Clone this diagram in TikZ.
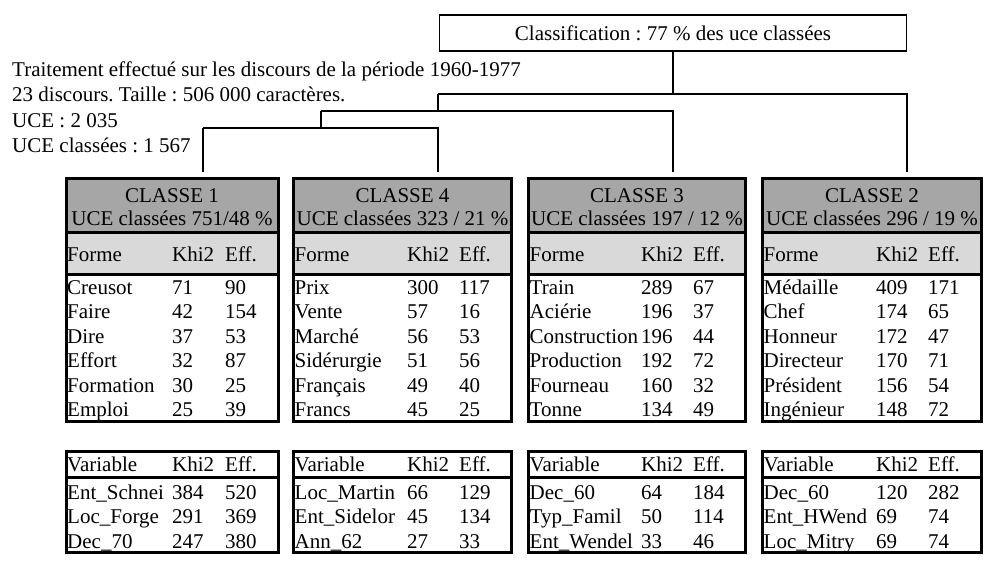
\documentclass[tikz,border=0pt]{standalone}
\usepackage{fontspec}
\setmainfont{Liberation Serif}
\frenchspacing
\usetikzlibrary{positioning}
\definecolor{darkhead}{RGB}{166,166,166}
\definecolor{lighthead}{RGB}{217,217,217}
\tikzset{
  txt/.style={inner sep=0pt, anchor=base west},
  link/.style={line width=1.6pt},
  frame/.style={line width=3pt},
  rootbox/.style={draw, line width=1.2pt, minimum width=467pt, minimum height=36pt, inner sep=0pt}
}
% #1 name, #2 left, #3 right, #4 khi2 column, #5 eff column, #6/#7 title, #8 formes, #9 variables
\newcommand{\classe}[9]{%
  \fill[darkhead] (#2,178.5) rectangle (#3,232.5);
  \fill[lighthead] (#2,232.5) rectangle (#3,274);
  \node[txt, anchor=base] (#1t) at ({(#2+#3)/2},202) {#6};
  \node[txt, anchor=base] (#1u) at ({(#2+#3)/2},225.5) {#7};
  \node[txt] (#1f) at (#2+1,261) {Forme};
  \node[txt] (#1fk) at (#4,261) {Khi2};
  \node[txt] (#1fe) at (#5,261) {Eff.};
  \foreach \f/\k/\e [count=\i] in {#8} {
    \node[txt] (#1f\i) at (#2+1,{294.3+24.5*(\i-1)}) {\f};
    \node[txt] (#1k\i) at (#4,{294.3+24.5*(\i-1)}) {\k};
    \node[txt] (#1e\i) at (#5,{294.3+24.5*(\i-1)}) {\e};
  }
  \draw[frame] (#2,232.5) -- (#3,232.5) (#2,274) -- (#3,274);
  \draw[frame] (#2,178.5) rectangle (#3,421.5);
  \node[txt] (#1v) at (#2+1,471) {Variable};
  \node[txt] (#1vk) at (#4,471) {Khi2};
  \node[txt] (#1ve) at (#5,471) {Eff.};
  \foreach \f/\k/\e [count=\i] in {#9} {
    \node[txt] (#1v\i) at (#2+1,{499+24.5*(\i-1)}) {\f};
    \node[txt] (#1vk\i) at (#4,{499+24.5*(\i-1)}) {\k};
    \node[txt] (#1ve\i) at (#5,{499+24.5*(\i-1)}) {\e};
  }
  \draw[frame] (#2,477.5) -- (#3,477.5);
  \draw[frame] (#2,451.5) rectangle (#3,552.5);
}

\begin{document}
\begin{tikzpicture}[x=1pt, y=-1pt, font=\fontsize{21}{25}\selectfont]
  \useasboundingbox (0,0) rectangle (987,562);
  %nodes
  \node[rootbox] (root) at (673,33) {Classification : 77 \% des uce classées};
  \node[txt] (info1) at (12,76) {Traitement effectué sur les discours de la période 1960-1977};
  \node[txt] (info2) at (12,101.5) {23 discours. Taille : 506 000 caractères.};
  \node[txt] (info3) at (12,127) {UCE : 2 035};
  \node[txt] (info4) at (12,152.5) {UCE classées : 1 567};
  %tables
  \classe{c1}{66}{278}{172}{225}{CLASSE 1}{UCE classées 751/48 \%}
    {Creusot/71/90, Faire/42/154, Dire/37/53, Effort/32/87, Formation/30/25, Emploi/25/39}
    {Ent\_Schnei/384/520, Loc\_Forge/291/369, Dec\_70/247/380}
  \classe{c4}{293.5}{511.5}{407}{459}{CLASSE 4}{UCE classées 323 / 21 \%}
    {Prix/300/117, Vente/57/16, Marché/56/53, Sidérurgie/51/56, Français/49/40, Francs/45/25}
    {Loc\_Martin/66/129, Ent\_Sidelor/45/134, Ann\_62/27/33}
  \classe{c3}{528.5}{745.5}{641}{693}{CLASSE 3}{UCE classées 197 / 12 \%}
    {Train/289/67, Aciérie/196/37, Construction/196/44, Production/192/72, Fourneau/160/32, Tonne/134/49}
    {Dec\_60/64/184, Typ\_Famil/50/114, Ent\_Wendel/33/46}
  \classe{c2}{762.5}{981.5}{876}{928}{CLASSE 2}{UCE classées 296 / 19 \%}
    {Médaille/409/171, Chef/174/65, Honneur/172/47, Directeur/170/71, Président/156/54, Ingénieur/148/72}
    {Dec\_60/120/282, Ent\_HWend/69/74, Loc\_Mitry/69/74}
  %edges
  \coordinate (nb) at (438,94);
  \coordinate (nc) at (321,111);
  \coordinate (nd) at (203,128);
  \coordinate (k1) at (203,172);
  \coordinate (k4) at (438,172);
  \coordinate (k3) at (673,172);
  \coordinate (k2) at (907,172);
  \draw[link] (root.south) -- (root.south |- nb);
  \draw[link] (nb) -| (k2);
  \draw[link] (nb) -- (nb |- nc);
  \draw[link] (nc) -| (k3);
  \draw[link] (nc) -- (nc |- nd);
  \draw[link] (nd) -| (k4);
  \draw[link] (nd) -- (k1);
\end{tikzpicture}
\end{document}
